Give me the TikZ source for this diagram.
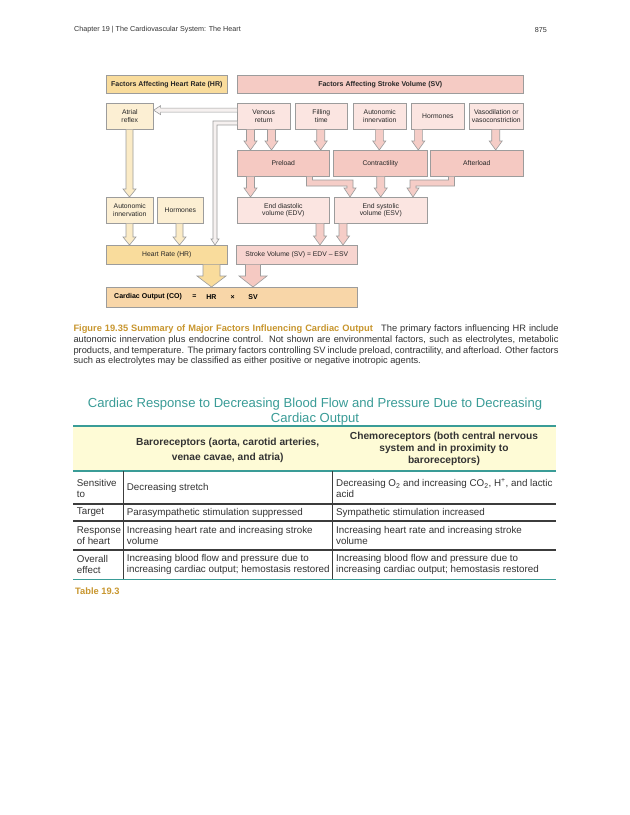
\documentclass[tikz,border=0pt]{standalone}
\usepackage{fontspec}
\setmainfont{Liberation Sans}
\usetikzlibrary{calc}
\definecolor{bdr}{HTML}{9C9C9C}
\definecolor{ylwH}{HTML}{F9DC9C}
\definecolor{ylwP}{HTML}{FCEFD3}
\definecolor{pnkH}{HTML}{F5CBC4}
\definecolor{pnkP}{HTML}{FBE5E1}
\definecolor{pnkM}{HTML}{F5C9C2}
\definecolor{pnkSV}{HTML}{F7D4CF}
\definecolor{peach}{HTML}{F8D6A8}
\definecolor{pnkA}{HTML}{F5CDC7}
\definecolor{ylwA}{HTML}{FBEBC6}
\definecolor{thinA}{HTML}{F6F1F0}
\definecolor{tealc}{HTML}{3A9C97}
\definecolor{goldc}{HTML}{C8962E}
\definecolor{hdrfill}{HTML}{FEFBD6}
\definecolor{rulegray}{HTML}{3C3C3C}
\definecolor{txtgray}{HTML}{333333}
\newcommand\varw[7]{%
 \fill[#7] let \p1=(#1 |- #2.south), \p2=(#1 |- #3.north) in
  (\x1-#4,\y1) -- (\x1-#4,\y2+#6) -- (\x1-#5,\y2+#6) -- (\x1,\y2) -- (\x1+#5,\y2+#6) -- (\x1+#4,\y2+#6) -- (\x1+#4,\y1) -- cycle;
 \draw[arrline] let \p1=(#1 |- #2.south), \p2=(#1 |- #3.north) in
  (\x1-#4,\y1) -- (\x1-#4,\y2+#6) -- (\x1-#5,\y2+#6) -- (\x1,\y2) -- (\x1+#5,\y2+#6) -- (\x1+#4,\y2+#6) -- (\x1+#4,\y1);
}
\begin{document}
\begin{tikzpicture}[x=1pt,y=-1pt,
  bx/.style={draw=bdr, line width=0.6pt, anchor=north west, inner sep=0pt, align=center,
    font=\fontsize{6.8}{7.8}\selectfont, text=black!85},
  hb/.style={bx, font=\bfseries\fontsize{7}{8}\selectfont},
  cot/.style={inner sep=0pt, font=\bfseries\fontsize{7}{8}\selectfont},
  arrline/.style={draw=bdr, line width=0.6pt, line join=miter},
  cell/.style={anchor=west, align=left, inner sep=0pt, font=\fontsize{9.8}{11}\selectfont, text=txtgray},
  thd/.style={align=center, inner sep=0pt, font=\bfseries\fontsize{10.2}{12}\selectfont, text=txtgray}]
\useasboundingbox (0,0) rectangle (630,815);
\fill[white] (0,0) rectangle (630,815);

% page header
\node[anchor=west, inner sep=0pt, font=\fontsize{7.2}{8}\selectfont, text=txtgray] (phl) at (74,30) {Chapter 19 | The Cardiovascular System: The Heart};
\node[anchor=east, inner sep=0pt, font=\fontsize{7.2}{8}\selectfont, text=txtgray] (phr) at (547,30) {875};

% ---------- diagram boxes ----------
\node[hb, fill=ylwH, minimum width=121pt, minimum height=18pt] (hrh) at (106,75) {Factors Affecting Heart Rate (HR)};
\node[hb, fill=pnkH, minimum width=286pt, minimum height=18pt] (svh) at (237,75) {Factors Affecting Stroke Volume (SV)};

\node[bx, fill=ylwP, minimum width=47pt, minimum height=26pt] (atr) at (106,103) {Atrial\\reflex};
\node[bx, fill=pnkP, minimum width=53pt, minimum height=26pt] (ven) at (237,103) {Venous\\return};
\node[bx, fill=pnkP, minimum width=52pt, minimum height=26pt] (fil) at (295,103) {Filling\\time};
\node[bx, fill=pnkP, minimum width=53pt, minimum height=26pt] (aut) at (353,103) {Autonomic\\innervation};
\node[bx, fill=pnkP, minimum width=53pt, minimum height=26pt] (hor) at (411,103) {Hormones};
\node[bx, fill=pnkP, minimum width=54pt, minimum height=26pt] (vas) at (469,103) {Vasodilation or\\vasoconstriction};

\node[bx, fill=pnkM, minimum width=92pt, minimum height=26pt] (pre) at (237,150) {Preload};
\node[bx, fill=pnkM, minimum width=94pt, minimum height=26pt] (con) at (333,150) {Contractility};
\node[bx, fill=pnkM, minimum width=93pt, minimum height=26pt] (aft) at (430,150) {Afterload};

\node[bx, fill=ylwP, minimum width=47pt, minimum height=26pt] (aut2) at (106,197) {Autonomic\\innervation};
\node[bx, fill=ylwP, minimum width=46pt, minimum height=26pt] (hor2) at (157,197) {Hormones};
\node[bx, fill=pnkP, minimum width=92pt, minimum height=26pt] (edv) at (237,197) {End diastolic\\volume (EDV)};
\node[bx, fill=pnkP, minimum width=93pt, minimum height=26pt] (esv) at (334,197) {End systolic\\volume (ESV)};

\node[bx, fill=ylwH, minimum width=121pt, minimum height=19pt] (hr) at (106,245) {Heart Rate (HR)};
\node[bx, fill=pnkSV, minimum width=121pt, minimum height=19pt] (sv) at (236,245) {Stroke Volume (SV) = EDV -- ESV};

\node[bx, fill=peach, minimum width=251pt, minimum height=20pt] (co) at (106,287) {};
\node[cot, anchor=west] (cot1) at (114,297) {Cardiac Output (CO)};
\node[cot] (coe) at (194.3,297) {=};
\node[cot] (coh) at (211.5,297) {HR};
\node[cot] (cox) at (232.7,297) {×};
\node[cot] (cos) at (253,297) {SV};

% ---------- column coordinates ----------
\coordinate (c250) at (250.5,0);
\coordinate (c272) at (271.5,0);
\coordinate (c321) at (320.7,0);
\coordinate (c379) at (379.3,0);
\coordinate (c418) at (418.3,0);
\coordinate (c496) at (495.7,0);
\coordinate (c381) at (380.7,0);
\coordinate (c320) at (320,0);
\coordinate (c343) at (343,0);
\coordinate (c130) at (129.5,0);
\coordinate (c180) at (179.5,0);
\coordinate (c211) at (211.5,0);
\coordinate (c253) at (253,0);

% ---------- block arrows ----------
\varw{c250}{ven}{pre}{4pt}{6.5pt}{9pt}{pnkA}
\varw{c272}{ven}{pre}{4pt}{6.5pt}{9pt}{pnkA}
\varw{c321}{fil}{pre}{4pt}{6.5pt}{9pt}{pnkA}
\varw{c379}{aut}{con}{4pt}{6.5pt}{9pt}{pnkA}
\varw{c418}{hor}{con}{4pt}{6.5pt}{9pt}{pnkA}
\varw{c496}{vas}{aft}{4pt}{6.5pt}{9pt}{pnkA}
\varw{c250}{pre}{edv}{4pt}{6.5pt}{9pt}{pnkA}
\varw{c381}{con}{esv}{4pt}{6.5pt}{9pt}{pnkA}
\varw{c320}{edv}{sv}{4pt}{6.5pt}{9pt}{pnkA}
\varw{c343}{esv}{sv}{4pt}{6.5pt}{9pt}{pnkA}
\varw{c130}{atr}{aut2}{3.5pt}{6.5pt}{8pt}{ylwA}
\varw{c130}{aut2}{hr}{3.5pt}{6.5pt}{8pt}{ylwA}
\varw{c180}{hor2}{hr}{3.5pt}{6.5pt}{8pt}{ylwA}
\varw{c211}{hr}{co}{8.5pt}{14.5pt}{11pt}{ylwH}
\varw{c253}{sv}{co}{7.5pt}{14pt}{11pt}{pnkM}

% elbow arrow: preload -> ESV
\coordinate (eA) at (309.5,183);
\coordinate (eB) at (350,183);
\fill[pnkA] let \p1=(eA |- pre.south), \p2=(eA), \p3=(eB), \p4=(eB |- esv.north) in
 (\x1-3pt,\y1) -- (\x1-3pt,\y2-3pt) -- (\x3-3pt,\y2-3pt) -- (\x3-3pt,\y4+9pt) -- (\x3-6pt,\y4+9pt) -- (\x4,\y4) -- (\x3+6pt,\y4+9pt) -- (\x3+3pt,\y4+9pt) -- (\x3+3pt,\y2+3pt) -- (\x1+3pt,\y2+3pt) -- (\x1+3pt,\y1) -- cycle;
\draw[arrline] let \p1=(eA |- pre.south), \p2=(eA), \p3=(eB), \p4=(eB |- esv.north) in
 (\x1-3pt,\y1) -- (\x1-3pt,\y2-3pt) -- (\x3-3pt,\y2-3pt) -- (\x3-3pt,\y4+9pt) -- (\x3-6pt,\y4+9pt) -- (\x4,\y4) -- (\x3+6pt,\y4+9pt) -- (\x3+3pt,\y4+9pt) -- (\x3+3pt,\y2+3pt) -- (\x1+3pt,\y2+3pt) -- (\x1+3pt,\y1);

% elbow arrow: afterload -> ESV
\coordinate (fA) at (451.5,183);
\coordinate (fB) at (413,183);
\fill[pnkA] let \p1=(fA |- aft.south), \p2=(fA), \p3=(fB), \p4=(fB |- esv.north) in
 (\x1+3pt,\y1) -- (\x1+3pt,\y2-3pt) -- (\x3+3pt,\y2-3pt) -- (\x3+3pt,\y4+9pt) -- (\x3+6pt,\y4+9pt) -- (\x4,\y4) -- (\x3-6pt,\y4+9pt) -- (\x3-3pt,\y4+9pt) -- (\x3-3pt,\y2+3pt) -- (\x1-3pt,\y2+3pt) -- (\x1-3pt,\y1) -- cycle;
\draw[arrline] let \p1=(fA |- aft.south), \p2=(fA), \p3=(fB), \p4=(fB |- esv.north) in
 (\x1+3pt,\y1) -- (\x1+3pt,\y2-3pt) -- (\x3+3pt,\y2-3pt) -- (\x3+3pt,\y4+9pt) -- (\x3+6pt,\y4+9pt) -- (\x4,\y4) -- (\x3-6pt,\y4+9pt) -- (\x3-3pt,\y4+9pt) -- (\x3-3pt,\y2+3pt) -- (\x1-3pt,\y2+3pt) -- (\x1-3pt,\y1);

% thin arrow: venous return -> atrial reflex
\coordinate (vA) at ($(ven.north west)!0.27!(ven.south west)$);
\fill[thinA] let \p1=(vA), \p2=(atr.east |- vA) in
 (\x1,\y1+2pt) -- (\x2+7pt,\y1+2pt) -- (\x2+7pt,\y1+4.5pt) -- (\x2,\y1) -- (\x2+7pt,\y1-4.5pt) -- (\x2+7pt,\y1-2pt) -- (\x1,\y1-2pt) -- cycle;
\draw[arrline] let \p1=(vA), \p2=(atr.east |- vA) in
 (\x1,\y1+2pt) -- (\x2+7pt,\y1+2pt) -- (\x2+7pt,\y1+4.5pt) -- (\x2,\y1) -- (\x2+7pt,\y1-4.5pt) -- (\x2+7pt,\y1-2pt) -- (\x1,\y1-2pt);

% thin elbow arrow: venous return -> heart rate
\coordinate (vH) at ($(ven.north west)!0.75!(ven.south west)$);
\coordinate (cH) at (215,0);
\fill[thinA] let \p1=(vH), \p2=(cH |- vH), \p3=(cH |- hr.north) in
 (\x1,\y1+2pt) -- (\x2-2pt,\y1+2pt) -- (\x2-2pt,\y3+6pt) -- (\x2-4pt,\y3+6pt) -- (\x2,\y3) -- (\x2+4pt,\y3+6pt) -- (\x2+2pt,\y3+6pt) -- (\x2+2pt,\y1-2pt) -- (\x1,\y1-2pt) -- cycle;
\draw[arrline] let \p1=(vH), \p2=(cH |- vH), \p3=(cH |- hr.north) in
 (\x1,\y1+2pt) -- (\x2-2pt,\y1+2pt) -- (\x2-2pt,\y3+6pt) -- (\x2-4pt,\y3+6pt) -- (\x2,\y3) -- (\x2+4pt,\y3+6pt) -- (\x2+2pt,\y3+6pt) -- (\x2+2pt,\y1-2pt) -- (\x1,\y1-2pt);

% ---------- caption ----------
\node[anchor=north west, inner sep=0pt, text width=485pt, align=justify, font=\fontsize{9.3}{10.8}\selectfont, text=txtgray] (cap) at (73.3,324.5)
{{\bfseries\color{goldc}Figure 19.35 Summary of Major Factors Influencing Cardiac Output}\hspace{0.9em}The primary factors influencing HR include\linebreak autonomic innervation plus endocrine control. Not shown are environmental factors, such as electrolytes, metabolic\linebreak products, and temperature. The primary factors controlling SV include preload, contractility, and afterload. Other factors\linebreak such as electrolytes may be classified as either positive or negative inotropic agents.};

% ---------- table ----------
\node[align=center, inner sep=0pt, font=\fontsize{13.1}{15}\selectfont, text=tealc] (ttl) at (315,411.5)
{Cardiac Response to Decreasing Blood Flow and Pressure Due to Decreasing\\Cardiac Output};

\fill[hdrfill] (73,427) rectangle (556,470.5);
\draw[tealc, line width=1.8pt] (73,426) -- (556,426);
\draw[tealc, line width=1.4pt] (73,471) -- (556,471);
\draw[rulegray, line width=1.2pt] (73,504) -- (556,504);
\draw[rulegray, line width=1.2pt] (73,521) -- (556,521);
\draw[rulegray, line width=1.2pt] (73,550) -- (556,550);
\draw[tealc, line width=1.8pt] (73,579.5) -- (556,579.5);
\draw[rulegray, line width=1pt] (123.3,471) -- (123.3,579);
\draw[rulegray, line width=1pt] (332.3,471) -- (332.3,579);

\node[thd] (th2) at (227.7,450.6) {Baroreceptors (aorta, carotid arteries,\\[3pt]venae cavae, and atria)};
\node[thd] (th3) at (444,449.3) {Chemoreceptors (both central nervous\\system and in proximity to\\baroreceptors)};

\node[cell] (a1) at (76.7,488) {Sensitive\\to};
\node[cell] (b1) at (126.7,487.5) {Decreasing stretch};
\node[cell] (c1) at (336,488.3) {Decreasing O\textsubscript{2} and increasing CO\textsubscript{2}, H\textsuperscript{+}, and lactic\\acid};
\node[cell] (a2) at (76.7,512.5) {Target};
\node[cell] (b2) at (126.7,512.5) {Parasympathetic stimulation suppressed};
\node[cell] (c2) at (336,512.5) {Sympathetic stimulation increased};
\node[cell] (a3) at (76.7,535.5) {Response\\of heart};
\node[cell] (b3) at (126.7,535.5) {Increasing heart rate and increasing stroke\\volume};
\node[cell] (c3) at (336,535.5) {Increasing heart rate and increasing stroke\\volume};
\node[cell] (a4) at (76.7,564.5) {Overall\\effect};
\node[cell] (b4) at (126.7,564.5) {Increasing blood flow and pressure due to\\increasing cardiac output; hemostasis restored};
\node[cell] (c4) at (336,564.5) {Increasing blood flow and pressure due to\\increasing cardiac output; hemostasis restored};

\node[anchor=west, inner sep=0pt, font=\bfseries\fontsize{9.3}{11}\selectfont, text=goldc] (tlab) at (75,590.7) {Table 19.3};
\end{tikzpicture}
\end{document}
